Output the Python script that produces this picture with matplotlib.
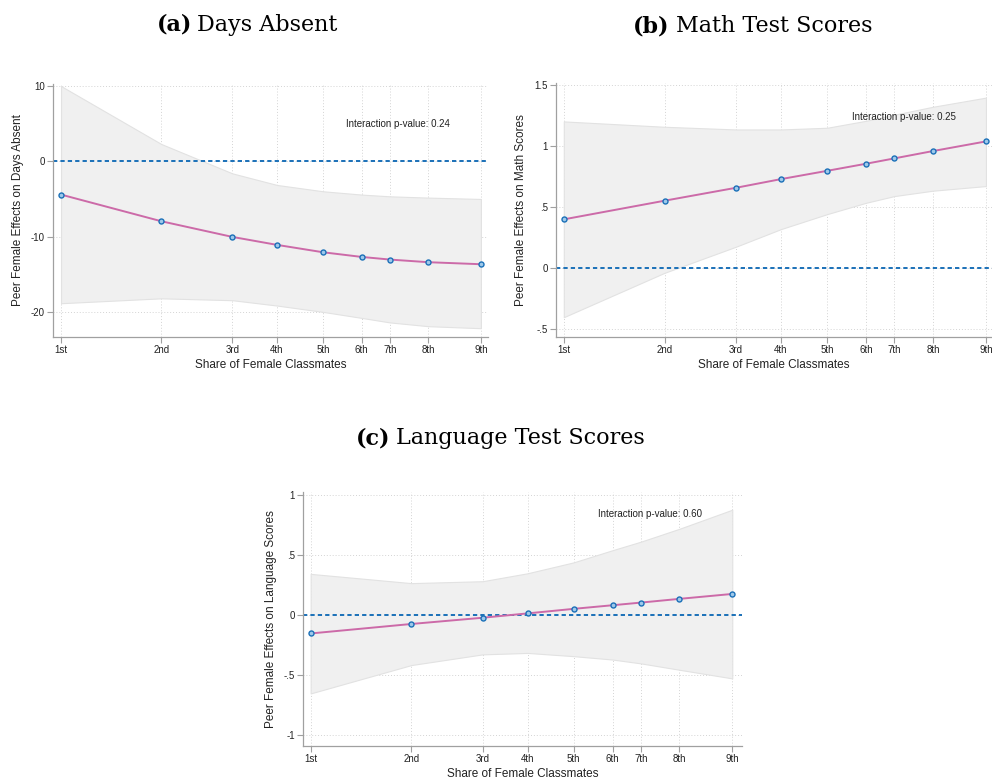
import matplotlib
matplotlib.use("Agg")
import matplotlib.pyplot as plt

# decile positions of share of female classmates
share = [0.350, 0.4097, 0.452, 0.4786, 0.506, 0.529, 0.5458, 0.5686, 0.600]
decile_labels = ["1st", "2nd", "3rd", "4th", "5th", "6th", "7th", "8th", "9th"]

# (a) days absent
absent_est = [-4.42, -7.96, -10.04, -11.1, -12.08, -12.7, -13.05, -13.4, -13.67]
absent_hi = [10.0, 2.3, -1.6, -3.14, -3.98, -4.42, -4.65, -4.82, -5.0]
absent_lo = [-18.85, -18.2, -18.45, -19.16, -20.0, -20.8, -21.4, -21.9, -22.17]

# (b) math
math_est = [0.402, 0.555, 0.661, 0.732, 0.80, 0.858, 0.902, 0.962, 1.041]
math_hi = [1.205, 1.161, 1.139, 1.139, 1.153, 1.21, 1.26, 1.325, 1.40]
math_lo = [-0.40, -0.036, 0.178, 0.322, 0.445, 0.538, 0.593, 0.637, 0.675]

# (c) language
lang_est = [-0.156, -0.077, -0.025, 0.011, 0.049, 0.079, 0.101, 0.132, 0.173]
lang_hi = [0.34, 0.263, 0.279, 0.345, 0.436, 0.537, 0.608, 0.715, 0.874]
lang_lo = [-0.655, -0.419, -0.33, -0.318, -0.345, -0.373, -0.405, -0.458, -0.53]

pvals = ["0.24", "0.25", "0.60"]

plt.rcParams['font.family'] = ['Liberation Sans', 'DejaVu Sans']

fig = plt.figure(figsize=(9.92, 7.80), dpi=100)


def panel(rect, est, lo, hi, ylab, yticks, ylabels, ylim, xlim, pval, txt_pos):
    ax = fig.add_axes(rect)
    ax.fill_between(share, lo, hi, facecolor='#f0f0f0', edgecolor='#e2e2e2', lw=0.8, zorder=1)
    ax.axhline(0, color='#1a70b8', ls=(0, (2.2, 1.6)), lw=1.4, zorder=2)
    ax.plot(share, est, color='#cc6aa8', lw=1.4, zorder=3)
    ax.plot(share, est, ls='none', marker='o', ms=3.6, mfc='#9fc9ea', mec='#1a70b8', mew=1.0, zorder=4)
    ax.set_xlim(*xlim)
    ax.set_ylim(*ylim)
    ax.set_xticks(share)
    ax.set_xticklabels(decile_labels)
    ax.set_yticks(yticks)
    ax.set_yticklabels(ylabels)
    ax.grid(True, color='#d4d4d4', ls=(0, (1, 2)), lw=0.7)
    ax.set_axisbelow(True)
    for s in ['top', 'right']:
        ax.spines[s].set_visible(False)
    for s in ['left', 'bottom']:
        ax.spines[s].set_color('#a0a0a0')
        ax.spines[s].set_linewidth(0.9)
    ax.tick_params(axis='both', length=4, width=0.8, color='#a0a0a0', labelsize=7, labelcolor='#222222', pad=2)
    ax.set_xlabel("Share of Female Classmates", fontsize=8.5, labelpad=3, color='#222222')
    ax.set_ylabel(ylab, fontsize=8.5, labelpad=5, color='#222222')
    ax.text(txt_pos[0], txt_pos[1], "Interaction p-value: " + pval, transform=ax.transAxes,
            fontsize=7, ha='left', va='center', color='#222222')
    return ax


panel([0.0534, 0.5683, 0.4385, 0.324], absent_est, absent_lo, absent_hi,
      "Peer Female Effects on Days Absent", [10, 0, -10, -20], ["10", "0", "-10", "-20"],
      (-23.3, 10.27), (0.3452, 0.6042), pvals[0], (0.674, 0.842))
panel([0.5605, 0.5683, 0.4395, 0.3253], math_est, math_lo, math_hi,
      "Peer Female Effects on Math Scores", [1.5, 1, 0.5, 0, -0.5], ["1.5", "1", ".5", "0", "-.5"],
      (-0.56, 1.52), (0.3454, 0.6036), pvals[1], (0.678, 0.867))
panel([0.3057, 0.044, 0.442, 0.3253], lang_est, lang_lo, lang_hi,
      "Peer Female Effects on Language Scores", [1, 0.5, 0, -0.5, -1], ["1", ".5", "0", "-.5", "-1"],
      (-1.09, 1.022), (0.3456, 0.6056), pvals[2], (0.673, 0.914))

serif = ['DejaVu Serif']
for xb, xn, y, tag, name in [(192, 197, 31, "(a)", "Days Absent"),
                             (669, 676, 32, "(b)", "Math Test Scores"),
                             (390, 396, 444, "(c)", "Language Test Scores")]:
    fig.text(xb / 992, 1 - y / 780, tag, family=serif, fontweight='bold', fontsize=16,
             ha='right', va='baseline')
    fig.text(xn / 992, 1 - y / 780, name, family=serif, fontsize=16, ha='left', va='baseline')

fig.savefig("out.png", dpi=100)
